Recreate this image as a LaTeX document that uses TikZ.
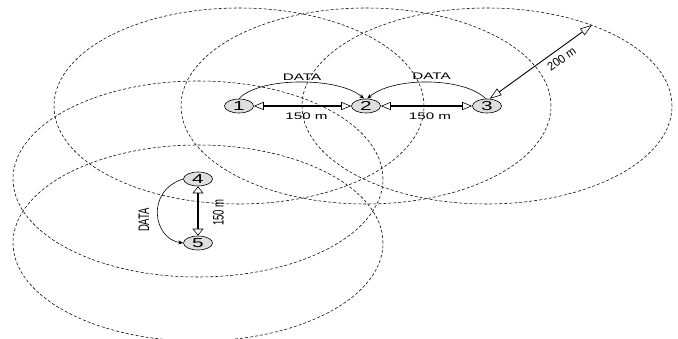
\documentclass[tikz,border=0pt]{standalone}
\usepackage{fontspec}
\setmainfont{Liberation Sans}
\usetikzlibrary{shapes.geometric,arrows.meta}
\newcommand\myH[1]{\scalebox{1.6}[1]{#1}}
\newcommand\myV[1]{\scalebox{1}[1.6]{#1}}
\begin{document}
\begin{tikzpicture}[x=1pt,y=-1pt,
  rangecircle/.style={draw, dash pattern=on 3pt off 2pt, line width=0.55pt},
  station/.style={ellipse, draw, line width=0.6pt, fill=black!13,
    minimum width=29pt, minimum height=14pt, inner sep=0pt,
    font=\fontsize{13}{13}\selectfont},
  lab/.style={inner sep=0pt, font=\fontsize{9.5}{10}\selectfont},
  distarrow/.style={line width=1.3pt,
    {Triangle[open,length=10pt,width=8pt,line width=0.6pt]}-{Triangle[open,length=10pt,width=8pt,line width=0.6pt]}},
  vdistarrow/.style={line width=1.3pt,
    {Triangle[open,length=7pt,width=11pt,line width=0.6pt]}-{Triangle[open,length=7pt,width=11pt,line width=0.6pt]}},
  rangearrow/.style={line width=0.9pt,
    {Triangle[open,length=12pt,width=8pt,line width=0.6pt]}-{Triangle[open,length=12pt,width=8pt,line width=0.6pt]}},
  dataarrow/.style={line width=0.6pt, -{Stealth[length=5pt,width=4pt]}}
]
\useasboundingbox (0,0) rectangle (678,339);
\fill[white] (0,0) rectangle (678,339);
\clip (0,0) rectangle (678,339);

% centres
\coordinate (c1) at (239,106);
\coordinate (c2) at (366,106);
\coordinate (c3) at (487,106);
\coordinate (c4) at (198,179);
\coordinate (c5) at (198,243);

% transmission ranges
\draw[rangecircle] (c1) ellipse [x radius=185pt, y radius=98pt];
\draw[rangecircle] (c2) ellipse [x radius=185pt, y radius=98pt];
\draw[rangecircle] (c3) ellipse [x radius=185pt, y radius=98pt];
\draw[rangecircle] (c4) ellipse [x radius=185pt, y radius=98pt];
\draw[rangecircle] (c5) ellipse [x radius=185pt, y radius=98pt];

% stations
\node[station] (n1) at (c1) {\myH{1}};
\node[station] (n2) at (c2) {\myH{2}};
\node[station] (n3) at (c3) {\myH{3}};
\node[station] (n4) at (c4) {\myH{4}};
\node[station] (n5) at (c5) {\myH{5}};

% distances
\draw[distarrow] (n1.east) -- (n2.west);
\draw[distarrow] (n2.east) -- (n3.west);
\draw[vdistarrow] (n4.south) -- (n5.north);
\coordinate (r3) at (592,25);
\draw[rangearrow] (n3.70) -- (r3);

% data transfers
\draw[dataarrow] (n1.north) .. controls +(20,-22) and +(-25,-22) .. (n2.105);
\draw[dataarrow] (n3.100) .. controls +(-22,-22) and +(25,-22) .. (n2.80);
\draw[dataarrow] (n4.west) .. controls +(-38,12) and +(-30,-4) .. (n5.west);

% labels
\node[lab] (l1) at (302,77) {\myH{DATA}};
\node[lab] (l2) at (431.5,76.3) {\myH{DATA}};
\node[lab] (l3) at (306.5,116) {\myH{150 m}};
\node[lab] (l4) at (430,116) {\myH{150 m}};
\node[lab, rotate=90] (l5) at (144,220) {\myV{DATA}};
\node[lab, rotate=90] (l6) at (218.5,212.5) {\myV{150 m}};
\node[lab, rotate=35] (l7) at (561.5,59) {\scalebox{1.2}[1.25]{200 m}};
\end{tikzpicture}
\end{document}
